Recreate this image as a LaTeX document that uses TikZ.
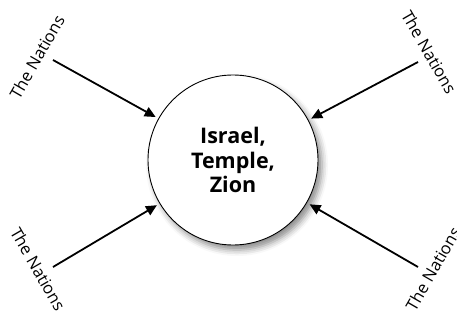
\documentclass[tikz,border=0pt]{standalone}
\usepackage{fontspec}
\setmainfont{Open Sans}
\usetikzlibrary{shadows.blur,arrows.meta}
\begin{document}
\begin{tikzpicture}[x=1pt,y=-1pt,
  hub/.style={circle,draw=black,line width=0.9pt,fill=white,minimum size=170pt,inner sep=0pt,
    align=center,font=\fontsize{21.5}{24.5}\selectfont\bfseries,
    blur shadow={shadow xshift=4pt,shadow yshift=-5pt,shadow blur radius=6pt,shadow opacity=45}},
  nat/.style={font=\fontsize{16.5}{18}\selectfont,inner sep=0pt},
  arr/.style={line width=1.8pt,-{Triangle[length=11pt,width=10pt]},shorten >=3pt}]
\useasboundingbox (0,0) rectangle (457,323);
\node[hub] (c) at (233,160) {Israel,\\Temple,\\Zion};
\coordinate (s1) at (53,60);
\coordinate (s2) at (418,62);
\coordinate (s3) at (53,267);
\coordinate (s4) at (418,267);
\draw[arr] (s1) -- (c);
\draw[arr] (s2) -- (c);
\draw[arr] (s3) -- (c);
\draw[arr] (s4) -- (c);
\node[nat,rotate=60] (n1) at (37,57) {The Nations};
\node[nat,rotate=-60] (n2) at (429,52) {The Nations};
\node[nat,rotate=-60] (n3) at (38,269) {The Nations};
\node[nat,rotate=60] (n4) at (433,269) {The Nations};
\end{tikzpicture}
\end{document}
